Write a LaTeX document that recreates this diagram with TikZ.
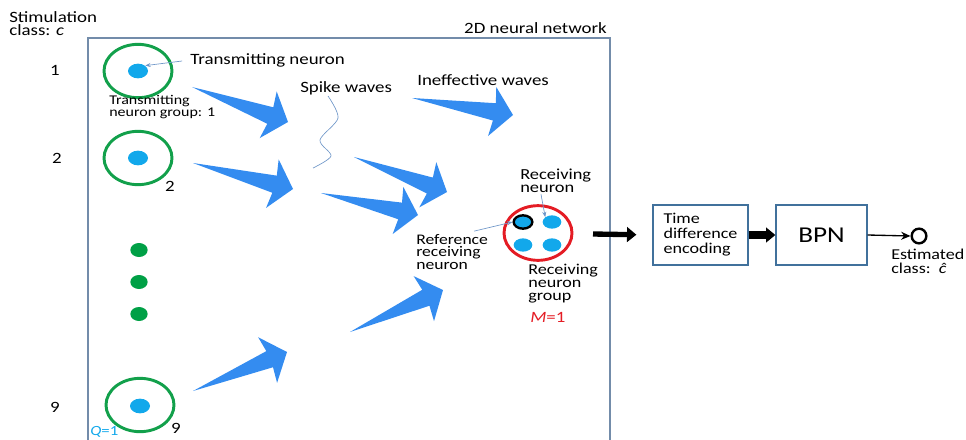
\documentclass[tikz,border=0pt]{standalone}
\usepackage{fontspec}
\setmainfont{Carlito}[FakeStretch=1.2]
\usetikzlibrary{shapes.geometric,calc,arrows.meta}
\definecolor{wave}{RGB}{52,140,240}
\definecolor{ringgreen}{RGB}{18,160,75}
\definecolor{dotgreen}{RGB}{0,160,70}
\definecolor{neuronblue}{RGB}{18,168,235}
\definecolor{framecol}{RGB}{115,140,170}
\definecolor{boxblue}{RGB}{65,113,156}
\definecolor{ringred}{RGB}{228,28,36}
\definecolor{pointercol}{RGB}{110,150,200}
% big blue spike wave from tail #1 to tip #2
\newcommand\spikewave[2]{\fill[wave] (#1) -- ($(#1)!0.82!6:(#2)$) -- ($(#1)!0.83!17:(#2)$) -- (#2)
  -- ($(#1)!0.83!-17:(#2)$) -- ($(#1)!0.82!-6:(#2)$) -- cycle;}

\begin{document}
\begin{tikzpicture}[x=0.75pt,y=-0.75pt,
    txt/.style={font=\fontsize{11.8}{10}\selectfont, inner sep=0, align=left},
    small/.style={font=\fontsize{10}{9.2}\selectfont, inner sep=0, align=left},
    ring/.style={ellipse, draw=ringgreen, line width=2.2pt, minimum width=51pt, minimum height=40pt, inner sep=0},
    neuron/.style={ellipse, fill=neuronblue, minimum width=15pt, minimum height=11pt, inner sep=0},
    gdot/.style={ellipse, fill=dotgreen, minimum width=13pt, minimum height=10.5pt, inner sep=0},
    rdot/.style={ellipse, fill=neuronblue, minimum width=14pt, minimum height=10pt, inner sep=0},
    pointer/.style={draw=pointercol, line width=0.5pt, -{Stealth[length=4pt,width=3pt]}},
    block/.style={draw=boxblue, line width=1.2pt, minimum height=45pt, inner sep=0},
    fat/.style={line width=#1, -{Triangle[length=7pt,width=11pt]}}]
\useasboundingbox (0,0) rectangle (966,439);

% network frame
\draw[framecol, line width=0.8pt] (88,445) |- (610,38) -- (610,445);
\node[txt, anchor=south east] (net) at (607,34) {2D neural network};

% stimulation classes
\node[txt, anchor=north west] (stim) at (9,11) {Stimulation\\class: \textit{c}};
\node[txt] (c1) at (55,70) {1};
\node[txt] (c2) at (57,158) {2};
\node[txt] (c9) at (55,407) {9};

% transmitting neuron groups
\node[ring] (g1) at (138,71) {};
\node[neuron] (n1) at (138,71) {};
\node[ring] (g2) at (138,158) {};
\node[neuron] (n2) at (138,158) {};
\node[ring] (g9) at (140,405) {};
\node[neuron] (n9) at (140,406) {};
\node[gdot] (d1) at (139,250) {};
\node[gdot] (d2) at (139,282) {};
\node[gdot] (d3) at (139,314) {};

\node[txt, anchor=west] (tn) at (190,60) {Transmitting neuron};
\draw[pointer, shorten <=6pt] (tn.west) -- (n1.north east);
\node[small, anchor=north west] (tg) at (109,95) {Transmitting\\neuron group: 1};
\node[txt] (l2) at (170,186) {2};
\node[txt] (l9) at (176,428) {9};
\node[txt, anchor=west, text=neuronblue, font=\fontsize{10.5}{10}\selectfont] (q) at (90,432) {\textit{Q}=1};

% spike waves
\node[txt, anchor=west] (sw) at (300,88) {Spike waves};
\node[txt, anchor=west] (iw) at (417,80) {Ineffective waves};
\draw[pointercol, line width=0.5pt] plot[smooth] coordinates {(328,96) (338,118) (320,140) (331,156) (313,168)};
\spikewave{192,87}{288,122}
\spikewave{193,163}{293,189}
\spikewave{412,98}{513,115}
\spikewave{354,157}{447,192}
\spikewave{321,193}{418,215}
\spikewave{350,332}{443,290}
\spikewave{193,391}{287,352}

% receiving neuron group
\node[ellipse, draw=ringred, line width=2.2pt, minimum width=51pt, minimum height=41pt] (rg) at (538,233) {};
\node[rdot, draw=black, line width=1.8pt] (r1) at (523,222) {};
\node[rdot] (r2) at (552,222) {};
\node[rdot] (r3) at (523,245) {};
\node[rdot] (r4) at (552,245) {};
\node[txt, anchor=west, font=\fontsize{11.5}{10}\selectfont] (rn) at (520,181) {Receiving\\neuron};
\draw[pointer] ($(rn.south west)+(21,1)$) -- (r2.north west);
\node[txt, anchor=west, font=\fontsize{11}{9.4}\selectfont] (ref) at (416,252) {Reference\\receiving\\neuron};
\draw[pointer] ($(ref.north east)+(-14,-3)$) -- (r1.west);
\node[txt, anchor=north west, font=\fontsize{11.3}{9.6}\selectfont] (rgl) at (528,264) {Receiving\\neuron\\group};
\node[txt, anchor=west, text=ringred] (m) at (530,317) {\textit{M}=1};

% decoding
\node[block, minimum width=71pt, font=\fontsize{11.3}{11.25}\selectfont, align=left] (tde) at (700.5,235) {Time\\difference\\encoding};
\node[block, minimum width=68pt, font=\fontsize{17}{18}\selectfont] (bpn) at (821.5,235) {BPN};
\node[circle, draw, line width=1.8pt, minimum size=11pt, inner sep=0] (out) at (919,236) {};
\node[txt, anchor=north west, font=\fontsize{11.3}{10.5}\selectfont] (est) at (891,249) {Estimated\\class:\ \ \textit{ĉ}};
\coordinate (a0) at (593,234);
\draw[fat=4pt, shorten >=12pt] (a0) -- (tde.west);
\draw[fat=6pt] (tde.east) -- (bpn.west);
\draw[line width=1pt, -{Stealth[length=7pt,width=6pt]}] (bpn.east) -- (out.west);
\end{tikzpicture}
\end{document}
